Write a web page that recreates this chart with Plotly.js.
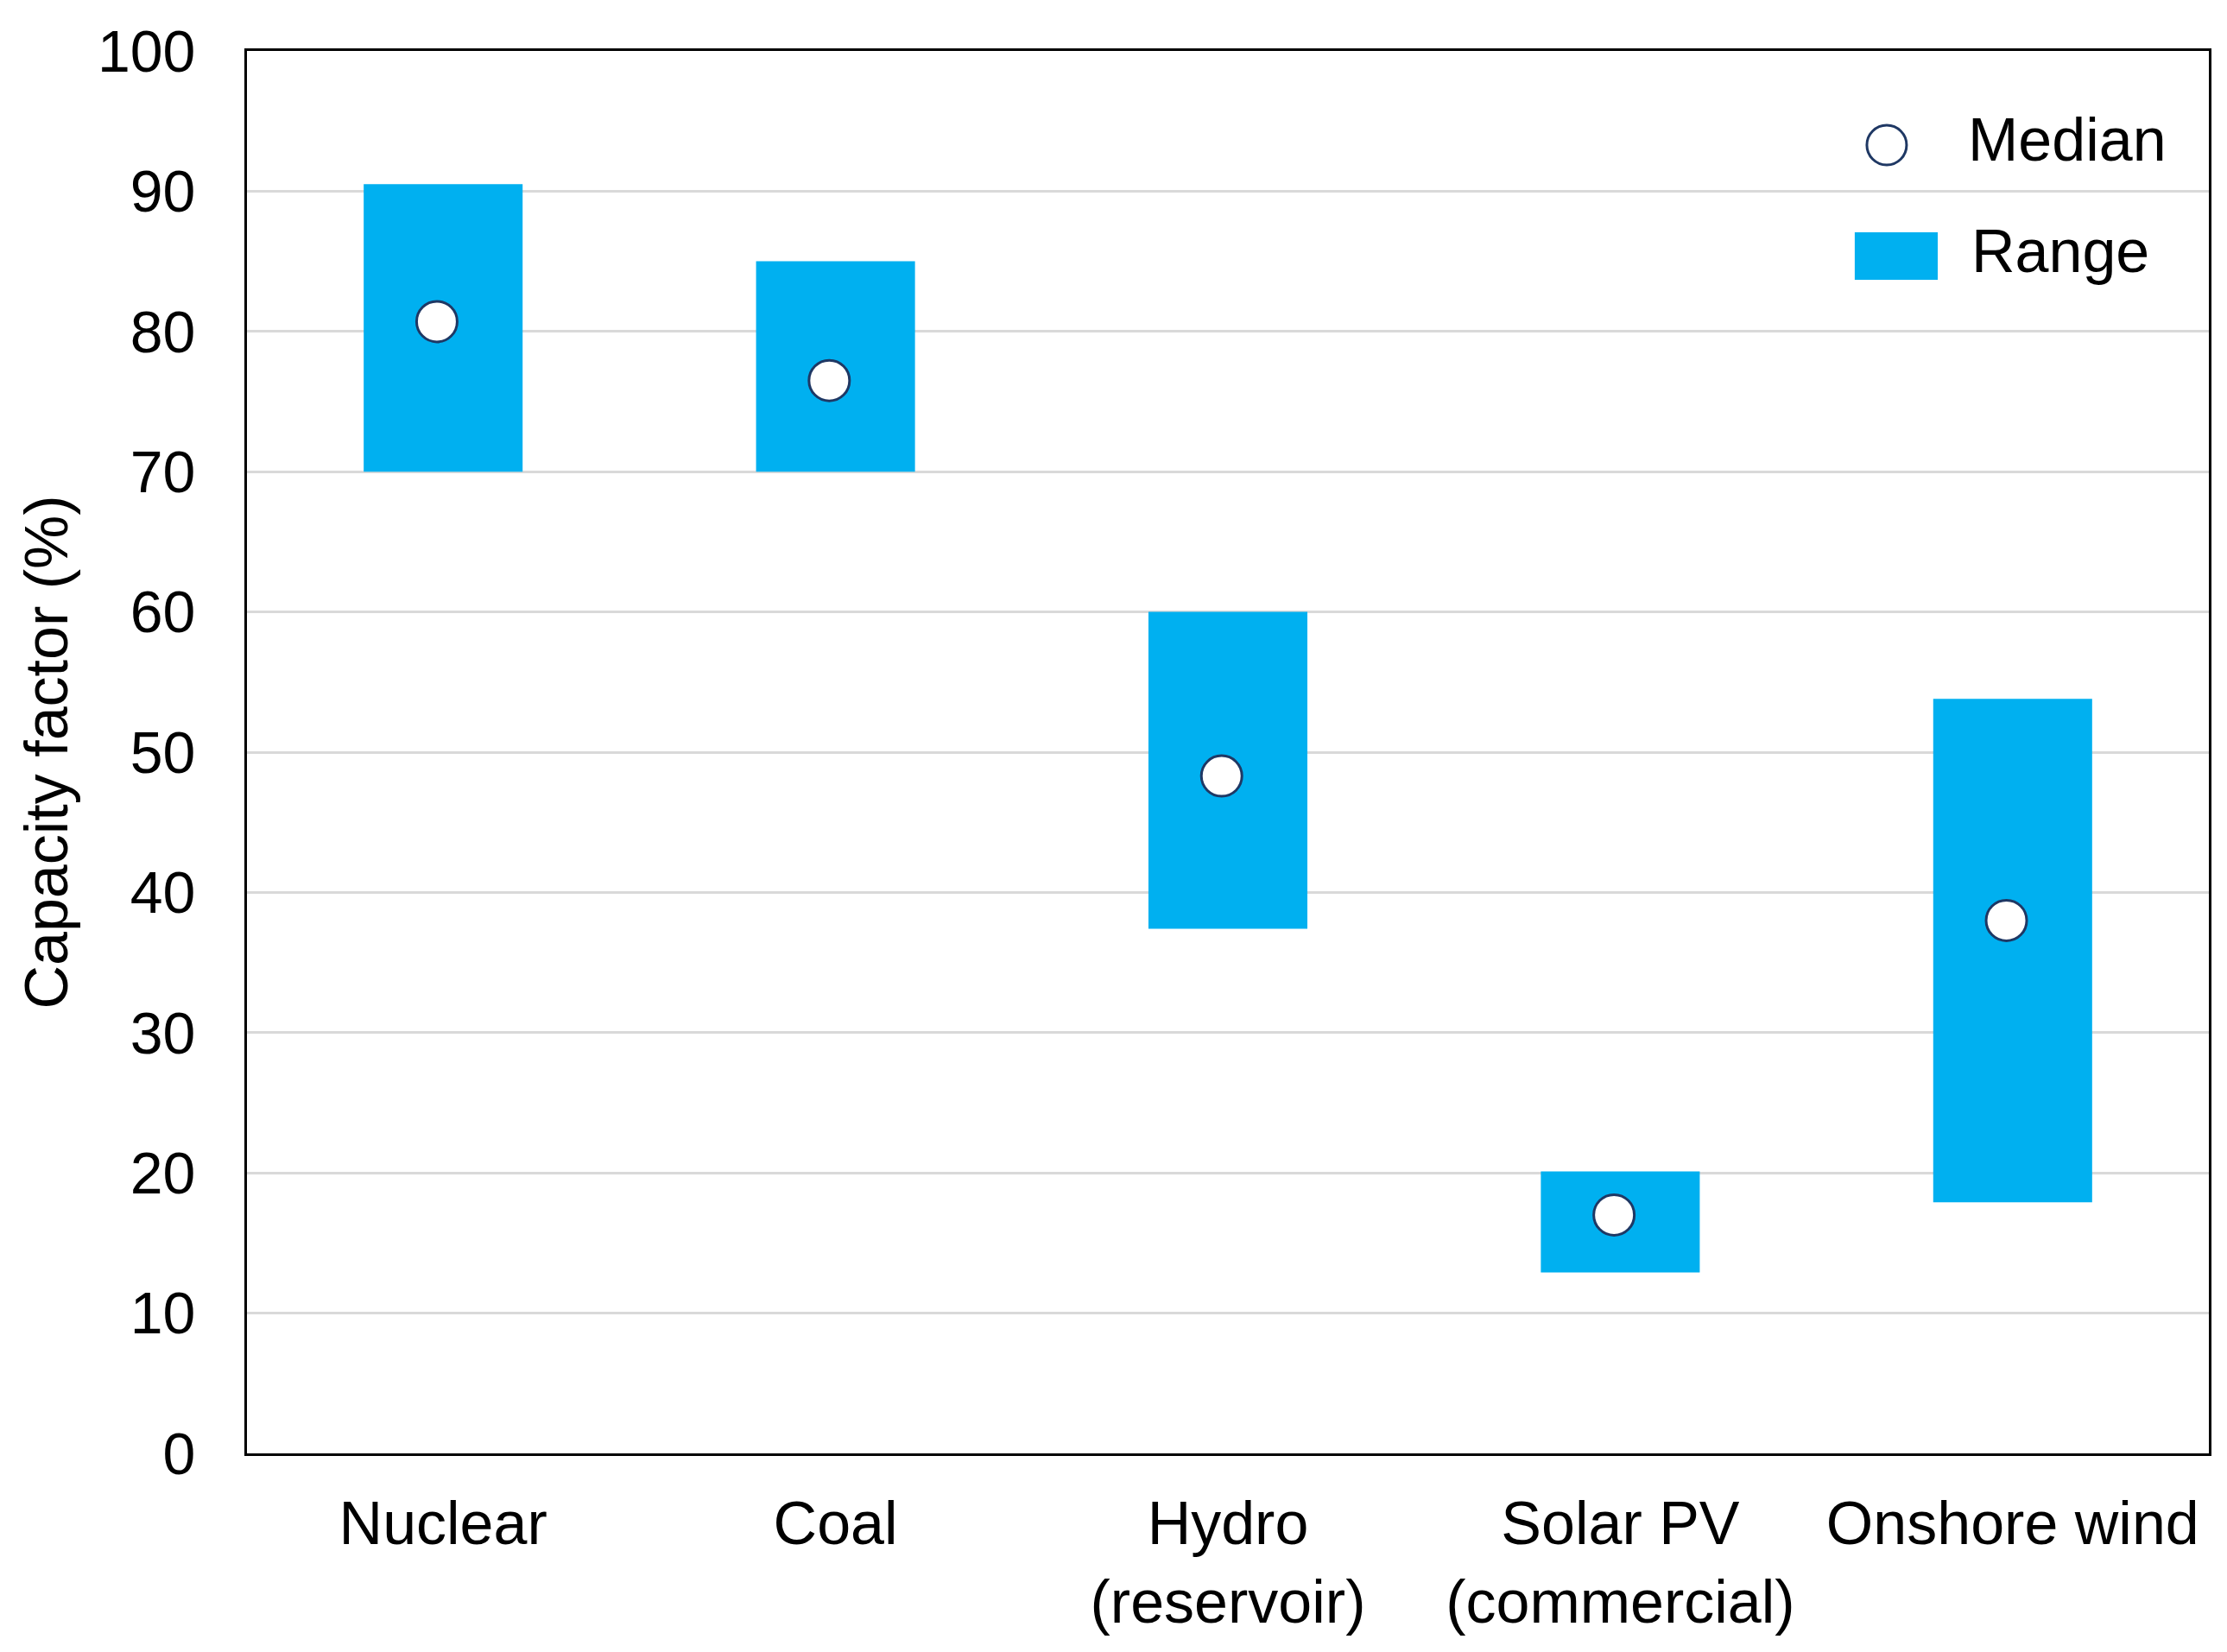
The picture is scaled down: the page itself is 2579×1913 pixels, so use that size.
<!DOCTYPE html>
<html>
<head>
<meta charset="utf-8">
<script src="https://cdn.plot.ly/plotly-3.0.1.min.js"></script>
<style>html,body{margin:0;padding:0;background:#fff;}#chart{width:2579px;height:1913px;}</style>
</head>
<body>
<div id="chart"></div>
<script>
const categories = ["Nuclear", "Coal", "Hydro<br>(reservoir)", "Solar PV<br>(commercial)", "Onshore wind"];
const rangeLow = [70, 70, 37.4, 12.9, 17.9];
const rangeHigh = [90.5, 85, 60, 20.1, 53.8];
const medians = [80.7, 76.5, 48.3, 17.0, 38.0];
const yTicks = [0, 10, 20, 30, 40, 50, 60, 70, 80, 90, 100];

const FONT = "Liberation Sans, Arial, sans-serif";
const barColor = "#00B0F0";
const navy = "#1F3864";
const idx = categories.map((c, i) => i);
const medianShift = -0.016;

const rangeTrace = {
  type: "bar",
  name: "Range",
  x: idx,
  y: rangeHigh.map((h, i) => h - rangeLow[i]),
  base: rangeLow,
  width: 0.405,
  marker: {color: barColor, line: {width: 0}},
  showlegend: false,
  hoverinfo: "skip"
};
const medianTrace = {
  type: "scatter",
  mode: "markers",
  name: "Median",
  x: idx.map(i => i + medianShift),
  y: medians,
  marker: {symbol: "circle", size: 47, color: "#ffffff", line: {color: navy, width: 3}},
  showlegend: false
};

const layout = {
  width: 2579,
  height: 1913,
  paper_bgcolor: "#ffffff",
  plot_bgcolor: "#ffffff",
  margin: {l: 286, r: 21, t: 59, b: 230, pad: 0},
  font: {family: FONT, color: "#000000", size: 68},
  showlegend: false,
  xaxis: {
    type: "linear",
    range: [-0.5, 4.5],
    tickvals: idx,
    ticktext: categories,
    showline: true, mirror: true, linecolor: "#000000", linewidth: 3,
    showgrid: false, zeroline: false,
    ticks: "", ticklabelstandoff: 18,
    tickfont: {family: FONT, size: 70, color: "#000000"},
    automargin: false,
    fixedrange: true
  },
  yaxis: {
    range: [0, 100],
    tickvals: yTicks,
    ticktext: yTicks.map(String),
    showline: true, mirror: true, linecolor: "#000000", linewidth: 3,
    showgrid: true, gridcolor: "#D9D9D9", gridwidth: 3,
    zeroline: false,
    ticks: "", ticklabelstandoff: 43,
    tickfont: {family: FONT, size: 68, color: "#000000"},
    title: {text: "Capacity factor (%)", font: {family: FONT, size: 70, color: "#000000"}, standoff: 12},
    automargin: false,
    fixedrange: true
  },
  shapes: [
    {type: "circle", xref: "paper", yref: "paper", xsizemode: "pixel", ysizemode: "pixel",
     xanchor: 0.8358, yanchor: 0.9329, x0: -23, x1: 23, y0: -23, y1: 23,
     fillcolor: "#ffffff", line: {color: navy, width: 3}},
    {type: "rect", xref: "paper", yref: "paper",
     x0: 0.8195, x1: 0.8618, y0: 0.8368, y1: 0.8707,
     fillcolor: barColor, line: {width: 0}}
  ],
  annotations: [
    {xref: "paper", yref: "paper", x: 0.8763, y: 0.9366, xanchor: "left", yanchor: "middle",
     text: "Median", showarrow: false, font: {family: FONT, size: 70, color: "#000000"}},
    {xref: "paper", yref: "paper", x: 0.8781, y: 0.8570, xanchor: "left", yanchor: "middle",
     text: "Range", showarrow: false, font: {family: FONT, size: 70, color: "#000000"}}
  ]
};

Plotly.newPlot("chart", [rangeTrace, medianTrace], layout, {staticPlot: true, displayModeBar: false});
</script>
</body>
</html>
